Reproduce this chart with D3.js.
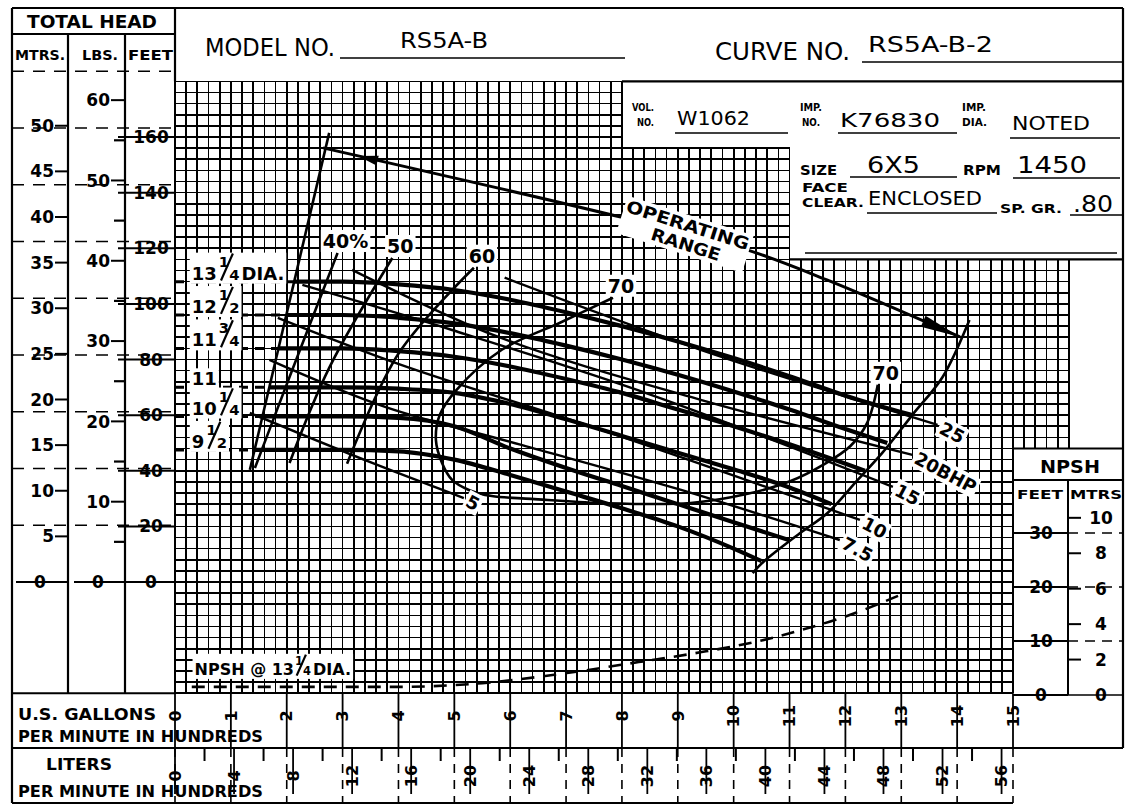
<!DOCTYPE html>
<html>
<head>
<meta charset="utf-8">
<title>RS5A-B pump curve</title>
<script src="https://cdn.jsdelivr.net/npm/d3@7/dist/d3.min.js"></script>
<style>
  html, body { margin: 0; padding: 0; background: #fff; }
  svg { display: block; }
  text { font-family: "DejaVu Sans", "Liberation Sans", sans-serif; fill: #000; }
</style>
</head>
<body>
<div id="chart"></div>
<script>
// Values.
// Flow is in hundreds of U.S. gallons per minute, head in feet.

// head / capacity curves, one pair of arrays per impeller diameter
const head1325Q = [0, 1.5, 2.1, 3, 4, 5, 6, 7, 8, 9, 10, 11, 12, 13.2];
const head1325H = [108, 108, 108, 108, 107, 105, 101.5, 97, 92, 86.5, 80.5, 74, 67, 60];
const head1250Q = [0, 1.4, 2, 3, 4, 5, 6, 7, 8, 9, 10, 11, 12, 12.75];
const head1250H = [96, 96, 96, 96, 95, 93, 89.5, 85, 80, 74.5, 68.5, 62, 55, 50];
const head1175Q = [0, 1.4, 2, 3, 4, 5, 6, 7, 8, 9, 10, 11, 12.35];
const head1175H = [84, 84, 84, 84, 83, 81, 77.5, 73, 68, 62, 56, 49.5, 40];
const head1100Q = [0, 1.5, 2, 3, 4, 5, 6, 7, 8, 9, 10, 11, 11.75];
const head1100H = [70, 70, 70, 70, 69.5, 68, 64, 58.5, 52.5, 46.5, 40.5, 34, 28];
const head1025Q = [0, 1.4, 2, 3, 4, 5, 6, 7, 8, 9, 10, 11];
const head1025H = [59.5, 59.5, 59.5, 59.5, 59, 56, 48, 41, 34.5, 28, 21.5, 15];
const head950Q = [0, 1.3, 2, 3, 4, 5, 6, 7, 8, 9, 10, 10.5];
const head950H = [47.5, 47.5, 47.5, 47.5, 47, 44, 38.5, 32.5, 26.5, 20, 12, 7.5];

const diaWhole = ["13", "12", "11", "11", "10", "9"];
const diaNum = ["1", "1", "3", "", "1", "1"];
const diaDen = ["4", "2", "4", "", "4", "2"];
const diaTail = ["DIA.", "", "", "", "", ""];

// efficiency lines
const eff40Q = [2.91, 2.1, 1.43];
const eff40H = [118.3, 76.3, 41];
const eff50Q = [3.89, 2.76, 2.05];
const eff50H = [116.5, 77, 42.8];
const eff60Q = [5.35, 4.01, 3.08];
const eff60H = [113, 82.4, 42.5];
const eff70Q = [7.84, 6.92, 5.85, 5.04, 4.74, 4.67, 4.78, 4.96, 5.26, 5.67, 6.38, 7.63, 9.23, 10.25, 11.02, 11.6, 12.09, 12.39, 12.58];
const eff70H = [102.2, 93.5, 83.5, 69.1, 60.1, 51.1, 42.8, 36.7, 33.1, 30.9, 29.9, 28.4, 28.4, 31.7, 36.3, 42.1, 48.9, 57.2, 70.9];
const effLabels = ["40%", "50", "60", "70"];

// brake horsepower lines
const bhp5Q = [1.34, 3.53, 5.17];
const bhp5H = [60.8, 42.8, 30.2];
const bhp75Q = [1.69, 3.76, 6.2, 9.06, 11.9];
const bhp75H = [79.9, 63, 49.3, 33.1, 15.1];
const bhp10Q = [1.84, 4.06, 7.63, 12.26];
const bhp10H = [95, 78, 54.7, 22.3];
const bhp15Q = [2.28, 4.96, 8.52, 12.85];
const bhp15H = [106.8, 90.6, 67.3, 34.2];
const bhp20Q = [3.17, 5.79, 9.41, 13.2];
const bhp20H = [112.2, 88.1, 65.5, 45.7];
const bhp25Q = [5.9, 9.41, 13.65];
const bhp25H = [109.4, 83.5, 56.5];
const bhpLabels = ["5", "7.5", "10", "15", "20BHP", "25"];

// operating range and curve limits
const opRangeQ = [2.65, 8.02, 10.24, 11.67, 14.05];
const opRangeH = [156.1, 131.0, 119.4, 108.6, 88.1];
const leftEdgeQs = [2.76, 1.34];
const leftEdgeHs = [161.5, 40.3];
const rightEdgeQ = [14.22, 13.74, 13.2, 12.66, 12.22, 11.68, 11.19, 10.53, 10.34];
const rightEdgeH = [94.2, 73.7, 60.1, 46.4, 36.7, 24.8, 17.6, 7.2, 3.2];

// NPSH required at 13 1/4 dia., feet
const npshQ = [0.3, 2, 4, 5.5, 6.9, 8.3, 9.4, 10.5, 11.2, 12.1, 13];
const npshFt = [1.5, 1.5, 1.5, 2.2, 3.9, 6.1, 7.9, 10.1, 12, 14.9, 18.6];

// scale ticks
const gpmTicks = [0, 1, 2, 3, 4, 5, 6, 7, 8, 9, 10, 11, 12, 13, 14, 15];
const literTicks = [0, 4, 8, 12, 16, 20, 24, 28, 32, 36, 40, 44, 48, 52, 56];
const literMinorTicks = [2, 6, 10, 14, 18, 22, 26, 30, 34, 38, 42, 46, 50, 54];
const feetTicks = [0, 20, 40, 60, 80, 100, 120, 140, 160];
const feetGuideLines = [20, 40, 60, 80, 100, 120, 140, 160, 180];
const lbsTicks = [0, 10, 20, 30, 40, 50, 60];
const lbsMinorTicks = [5, 15, 25, 35, 45, 55];
const mtrsTicks = [0, 5, 10, 15, 20, 25, 30, 35, 40, 45, 50];
const npshFeetTicks = [0, 10, 20, 30];
const npshMtrsTicks = [0, 2, 4, 6, 8, 10];

const FT_PER_PSI = 2.31 / 0.80; // sp. gr. .80
const FT_PER_M = 3.281;
const L_PER_GAL = 3.785;

const W = 1127, H = 809;
const x = d3.scaleLinear().domain([0, 15]).range([175, 1013]);
const yHead = d3.scaleLinear().domain([0, 160]).range([582, 137]);
const yNpsh = d3.scaleLinear().domain([0, 30]).range([695, 533]);

const svg = d3.select("#chart").append("svg").attr("width", W).attr("height", H);
svg.append("rect").attr("width", W).attr("height", H).attr("fill", "#fff");

const zip = (a, b) => a.map((v, i) => [v, b[i]]);
const px = d => [x(d[0]), yHead(d[1])];
const lineQH = d3.line().x(d => x(d[0])).y(d => yHead(d[1]));

function rule(g, x1, y1, x2, y2, width, dash) {
    const l = g.append("line")
        .attr("x1", x1).attr("y1", y1).attr("x2", x2).attr("y2", y2)
        .attr("stroke", "#000").attr("stroke-width", width || 2);
    if (dash) l.attr("stroke-dasharray", dash);
    return l;
}

function put(g, str, tx, ty, size, o = {}) {
    const t = g.append("text").attr("x", tx).attr("y", ty)
        .attr("font-size", size).text(str);
    if (o.anchor) t.attr("text-anchor", o.anchor);
    if (o.weight) t.attr("font-weight", o.weight);
    if (o.mid) t.attr("dy", "0.36em");
    if (o.len) t.attr("textLength", o.len).attr("lengthAdjust", "spacingAndGlyphs");
    return t;
}

// white box behind a label, like the knocked-out grid on the sheet
function knockOut(g, padX = 2, padY = 0) {
    const b = g.node().getBBox();
    g.insert("rect", ":first-child")
        .attr("x", b.x - padX).attr("y", b.y - padY)
        .attr("width", b.width + 2 * padX).attr("height", b.height + 2 * padY)
        .attr("fill", "#fff");
}

// stacked fraction: numerator up-left, drawn slash, denominator down-right
function fraction(g, fx, base, num, den, size) {
    const s = size * 0.82;
    put(g, num, fx, base - size * 0.72, s, { weight: "bold" });
    put(g, den, fx + size * 0.58, base, s, { weight: "bold" });
    rule(g, fx + size * 0.78, base - size * 1.45, fx + size * 0.12, base + size * 0.05, 2.2);
    return size * 1.15;
}

function arrowHead(g, tip, from, len, half) {
    const dx = tip[0] - from[0], dy = tip[1] - from[1], d = Math.hypot(dx, dy);
    const ux = dx / d, uy = dy / d;
    const bx = tip[0] - ux * len, by = tip[1] - uy * len;
    g.append("path")
        .attr("d", `M${tip[0]},${tip[1]}L${bx - uy * half},${by + ux * half}L${bx + uy * half},${by - ux * half}Z`)
        .attr("fill", "#000");
}

// flow at which the minimum-flow line crosses a given head
function leftEdgeAt(h) {
    const [q0, q1] = leftEdgeQs, [h0, h1] = leftEdgeHs;
    return q1 + (h - h1) * (q0 - q1) / (h0 - h1);
}

function drawGrid() {
    const g = svg.append("g").attr("stroke", "#000").attr("stroke-width", 1.7)
        .attr("shape-rendering", "crispEdges");
    for (let i = 0; i <= 80; i++) {
        const q = i / 5;
        const top = i <= 40 ? 180 : i <= 55 ? 156 : 116;
        const bottom = i <= 75 ? -40 : 48;
        g.append("line").attr("x1", x(q)).attr("x2", x(q))
            .attr("y1", yHead(top)).attr("y2", yHead(bottom));
    }
    for (let h = -40; h <= 180; h += 4) {
        const right = h > 156 ? 8 : h > 116 ? 11 : h >= 48 ? 16 : 15;
        g.append("line").attr("x1", x(0)).attr("x2", x(right))
            .attr("y1", yHead(h)).attr("y2", yHead(h));
    }
}

function drawCurves(layer) {
    const smooth = d3.line().x(d => x(d[0])).y(d => yHead(d[1])).curve(d3.curveCatmullRom.alpha(0.5));
    const mono = d3.line().x(d => x(d[0])).y(d => yHead(d[1])).curve(d3.curveMonotoneX);

    // limits
    layer.append("path").attr("d", lineQH(zip(leftEdgeQs, leftEdgeHs)))
        .attr("fill", "none").attr("stroke", "#000").attr("stroke-width", 2.6);
    layer.append("path").attr("d", smooth(zip(rightEdgeQ, rightEdgeH)))
        .attr("fill", "none").attr("stroke", "#000").attr("stroke-width", 2.6);

    // efficiency
    [zip(eff40Q, eff40H), zip(eff50Q, eff50H), zip(eff60Q, eff60H), zip(eff70Q, eff70H)].forEach(pts => {
        layer.append("path").attr("d", smooth(pts))
            .attr("fill", "none").attr("stroke", "#000").attr("stroke-width", 2.6);
    });

    // bhp
    [zip(bhp5Q, bhp5H), zip(bhp75Q, bhp75H), zip(bhp10Q, bhp10H), zip(bhp15Q, bhp15H),
     zip(bhp20Q, bhp20H), zip(bhp25Q, bhp25H)].forEach(pts => {
        layer.append("path").attr("d", smooth(pts))
            .attr("fill", "none").attr("stroke", "#000").attr("stroke-width", 2.4);
    });

    // head curves: dashed up to the minimum-flow line, heavy after it
    const heads = [zip(head1325Q, head1325H), zip(head1250Q, head1250H), zip(head1175Q, head1175H),
                   zip(head1100Q, head1100H), zip(head1025Q, head1025H), zip(head950Q, head950H)];
    heads.forEach(pts => {
        const h0 = pts[0][1];
        const qb = leftEdgeAt(h0);
        const dashed = pts.filter(p => p[0] < qb).concat([[qb, h0]]);
        const solid = [[qb, h0]].concat(pts.filter(p => p[0] > qb));
        layer.append("path").attr("d", lineQH(dashed))
            .attr("fill", "none").attr("stroke", "#000").attr("stroke-width", 3)
            .attr("stroke-dasharray", "9,7");
        layer.append("path").attr("d", mono(solid))
            .attr("fill", "none").attr("stroke", "#000").attr("stroke-width", 4.2);
    });

    // operating range with arrows
    const op = zip(opRangeQ, opRangeH);
    layer.append("path").attr("d", smooth(op))
        .attr("fill", "none").attr("stroke", "#000").attr("stroke-width", 3);
    const p0 = px(op[0]), p1 = px(op[1]);
    const d01 = Math.hypot(p1[0] - p0[0], p1[1] - p0[1]);
    const u = [(p1[0] - p0[0]) / d01, (p1[1] - p0[1]) / d01];
    arrowHead(layer, [p0[0] + u[0] * 36, p0[1] + u[1] * 36], [p0[0] + u[0] * 60, p0[1] + u[1] * 60], 20, 5);
    arrowHead(layer, px(op[op.length - 1]), px(op[op.length - 2]), 40, 6);

    // npsh
    layer.append("path").attr("d", d3.line().x(d => x(d[0])).y(d => yNpsh(d[1])).curve(d3.curveMonotoneX)(zip(npshQ, npshFt)))
        .attr("fill", "none").attr("stroke", "#000").attr("stroke-width", 2.6)
        .attr("stroke-dasharray", "13,9");
}

function drawLabels(layer) {
    const size = 18;
    // impeller diameters
    [head1325H, head1250H, head1175H, head1100H, head1025H, head950H].forEach((hs, i) => {
        const g = layer.append("g");
        const base = yHead(hs[0]) - 2;
        let cx = x(0.3);
        const t = put(g, diaWhole[i], cx, base, size, { weight: "bold" });
        cx += t.node().getComputedTextLength() + 2;
        if (diaNum[i]) cx += fraction(g, cx, base, diaNum[i], diaDen[i], size) + 2;
        if (diaTail[i]) put(g, diaTail[i], cx, base, size, { weight: "bold" });
        knockOut(g);
    });

    // efficiency
    const effStarts = [[eff40Q[0], eff40H[0]], [eff50Q[0], eff50H[0]], [eff60Q[0], eff60H[0]], [eff70Q[0], eff70H[0]],
                       [eff70Q[eff70Q.length - 1], eff70H[eff70H.length - 1]]];
    effStarts.forEach((s, i) => {
        const g = layer.append("g");
        const [sx, sy] = px(s);
        put(g, effLabels[Math.min(i, 3)], sx + 8, sy - 5, 19, { anchor: "middle", weight: "bold" });
        knockOut(g);
    });

    // bhp, at the lower end of each line
    const bhpEnds = [[bhp5Q, bhp5H], [bhp75Q, bhp75H], [bhp10Q, bhp10H], [bhp15Q, bhp15H], [bhp20Q, bhp20H], [bhp25Q, bhp25H]];
    bhpEnds.forEach(([qs, hs], i) => {
        const [ex, ey] = px([qs[qs.length - 1], hs[hs.length - 1]]);
        const outer = layer.append("g").attr("transform", `translate(${ex},${ey}) rotate(28)`);
        const g = outer.append("g");
        put(g, bhpLabels[i], 4, 0, 18, { weight: "bold", mid: true });
        knockOut(g);
    });

    // operating range
    const a = px([opRangeQ[1], opRangeH[1]]), b = px([opRangeQ[2], opRangeH[2]]);
    const ang = Math.atan2(b[1] - a[1], b[0] - a[0]) * 180 / Math.PI + 3;
    const outer = layer.append("g").attr("transform", `translate(${(a[0] + b[0]) / 2},${(a[1] + b[1]) / 2}) rotate(${ang})`);
    const og = outer.append("g");
    put(og, "OPERATING", 0, -3, 17, { anchor: "middle", weight: "bold", len: 128 });
    put(og, "RANGE", 4, 16, 17, { anchor: "middle", weight: "bold", len: 72 });
    knockOut(og);

    // npsh curve label
    const ng = layer.append("g");
    const nb = yNpsh(npshFt[0]) - 12;
    let nx = x(0.35);
    const nt = put(ng, "NPSH @ 13", nx, nb, 16, { weight: "bold" });
    nx += nt.node().getComputedTextLength() + 1;
    nx += fraction(ng, nx, nb, "1", "4", 14) + 2;
    put(ng, "DIA.", nx, nb, 16, { weight: "bold" });
    knockOut(ng);
}

function drawHeadScales(g) {
    const x0 = x(0);
    feetGuideLines.forEach(f => rule(g, 12, yHead(f * 1.02), x0, yHead(f * 1.02), 1.5, "12,9"));

    feetTicks.forEach(f => {
        const yy = yHead(f);
        rule(g, 118, yy, x0, yy, 2);
        put(g, f, 151, yy, 17, { anchor: "middle", weight: "bold", mid: true });
    });
    lbsTicks.forEach(p => {
        const yy = yHead(p * FT_PER_PSI);
        if (p === 0) {
            rule(g, 74, yy, 125, yy, 2);
            put(g, p, 98, yy, 17, { anchor: "middle", weight: "bold", mid: true });
        } else {
            rule(g, 111, yy, 125, yy, 2);
            put(g, p, 110, yy, 17, { anchor: "end", weight: "bold", mid: true });
        }
    });
    lbsMinorTicks.forEach(p => rule(g, 114, yHead(p * FT_PER_PSI), 125, yHead(p * FT_PER_PSI), 2.2));
    mtrsTicks.forEach(m => {
        const yy = yHead(m * FT_PER_M);
        if (m === 0) {
            rule(g, 16, yy, 68, yy, 2);
            put(g, m, 40, yy, 17, { anchor: "middle", weight: "bold", mid: true });
        } else {
            rule(g, 55, yy, 68, yy, 2);
            put(g, m, 54, yy, 17, { anchor: "end", weight: "bold", mid: true });
        }
    });
}

function drawFlowScales(g) {
    const yb = yHead(-40);
    gpmTicks.forEach(t => {
        rule(g, x(t), yb, x(t), 748, 1.8);
        rule(g, x(t), 748, x(t), 803, 1.6, "9,7");
        g.append("text").attr("transform", `translate(${x(t)},716) rotate(-90)`)
            .attr("text-anchor", "middle").attr("dy", "0.36em")
            .attr("font-size", 16).attr("font-weight", "bold").text(t);
    });
    literMinorTicks.forEach(t => rule(g, x(t / L_PER_GAL), 748, x(t / L_PER_GAL), 761, 2));
    literTicks.forEach(t => {
        const xx = x(t / L_PER_GAL);
        rule(g, xx, 748, xx, 794, 1.8);
        g.append("text").attr("transform", `translate(${xx},776) rotate(-90)`)
            .attr("text-anchor", "middle").attr("dy", "0.36em")
            .attr("font-size", 16).attr("font-weight", "bold").text(t);
    });
    put(g, "U.S. GALLONS", 18, 720, 15, { weight: "bold", len: 138 });
    put(g, "PER MINUTE IN HUNDREDS", 18, 742, 15, { weight: "bold", len: 245 });
    put(g, "LITERS", 46, 770, 15, { weight: "bold", len: 66 });
    put(g, "PER MINUTE IN HUNDREDS", 18, 797, 15, { weight: "bold", len: 245 });
}

function drawNpshScale(g) {
    const xl = x(15), xm = 1068, xr = 1123;
    put(g, "NPSH", 1070, 473, 18, { anchor: "middle", weight: "bold", len: 60 });
    put(g, "FEET", 1040, 499, 13, { anchor: "middle", weight: "bold", len: 46 });
    put(g, "MTRS", 1096, 499, 13, { anchor: "middle", weight: "bold", len: 52 });
    rule(g, xm, 480, xm, yNpsh(0), 2);
    npshFeetTicks.forEach(n => {
        const yy = yNpsh(n);
        rule(g, xl, yy, xm, yy, 1.8);
        rule(g, xm, yy, xr, yy, 1.6, n === 0 ? null : "10,7");
        put(g, n, 1041, yy, 17, { anchor: "middle", weight: "bold", mid: true });
    });
    npshMtrsTicks.forEach(m => {
        const yy = yNpsh(m * FT_PER_M);
        if (m > 0) rule(g, xm, yy, xm + 13, yy, 2);
        put(g, m, 1101, yy, 17, { anchor: "middle", weight: "bold", mid: true });
    });
}

function drawFrame(g) {
    const x0 = x(0);
    rule(g, 12, 8, 1123, 8, 2.2);
    rule(g, 12, 8, 12, 803, 2.2);
    rule(g, 1123, 8, 1123, 748, 2.2);
    rule(g, x0, 8, x0, yHead(180), 2.2);
    rule(g, 12, 34, x0, 34, 2.2);
    rule(g, 68, 34, 68, yHead(-40), 2.2);
    rule(g, 125, 34, 125, yHead(-40), 2.2);
    rule(g, 12, yHead(-40), x0, yHead(-40), 2.2);
    rule(g, x(8), yHead(180), 1123, yHead(180), 2.2);
    rule(g, x(11), yHead(116), 1123, yHead(116), 2.2);
    rule(g, x(15), yHead(48), 1123, yHead(48), 2.2);
    rule(g, x(15), 480, 1123, 480, 2.2);
    rule(g, 12, 748, 1123, 748, 2.2);
    rule(g, 12, 803, x(15), 803, 2.2);

    // header text
    put(g, "TOTAL HEAD", 27, 28, 17, { weight: "bold", len: 130 });
    put(g, "MTRS.", 15, 60, 14, { weight: "bold", len: 50 });
    put(g, "LBS.", 82, 60, 14, { weight: "bold", len: 36 });
    put(g, "FEET", 128, 60, 14, { weight: "bold", len: 45 });

    put(g, "MODEL NO.", 205, 56, 24, { len: 130 });
    put(g, "RS5A-B", 400, 48, 21, { len: 88 });
    rule(g, 340, 58, 625, 58, 1.6);
    put(g, "CURVE NO.", 715, 60, 24, { len: 135 });
    put(g, "RS5A-B-2", 868, 52, 21, { len: 125 });
    rule(g, 862, 62, 1123, 62, 1.6);

    // data block
    put(g, "VOL.", 632, 111, 11, { weight: "bold", len: 22 });
    put(g, "NO.", 637, 126, 11, { weight: "bold", len: 17 });
    put(g, "W1062", 677, 125, 19, { len: 73 });
    rule(g, 675, 133, 788, 133, 1.6);
    put(g, "IMP.", 800, 111, 11, { weight: "bold", len: 22 });
    put(g, "NO.", 802, 126, 11, { weight: "bold", len: 18 });
    put(g, "K76830", 840, 127, 19, { len: 100 });
    rule(g, 838, 133, 957, 133, 1.6);
    put(g, "IMP.", 962, 111, 11, { weight: "bold", len: 24 });
    put(g, "DIA.", 962, 126, 11, { weight: "bold", len: 25 });
    put(g, "NOTED", 1012, 130, 20, { len: 78 });
    rule(g, 1010, 138, 1120, 138, 1.6);

    put(g, "SIZE", 800, 175, 14, { weight: "bold", len: 37 });
    put(g, "6X5", 867, 173, 23, { len: 53 });
    rule(g, 850, 177, 957, 177, 1.6);
    put(g, "RPM", 963, 175, 14, { weight: "bold", len: 38 });
    put(g, "1450", 1017, 173, 23, { len: 70 });
    rule(g, 1013, 178, 1120, 178, 1.6);
    put(g, "FACE", 802, 192, 12, { weight: "bold", len: 46 });
    put(g, "CLEAR.", 802, 207, 12, { weight: "bold", len: 62 });
    put(g, "ENCLOSED", 868, 205, 20, { len: 114 });
    rule(g, 867, 213, 997, 213, 1.6);
    put(g, "SP. GR.", 1000, 213, 13, { weight: "bold", len: 62 });
    put(g, ".80", 1073, 212, 23, { len: 40 });
    rule(g, 1070, 215, 1122, 215, 1.6);
    rule(g, 805, 253, 1117, 253, 1.6);
}

drawGrid();
const curveLayer = svg.append("g");
drawCurves(curveLayer);
const labelLayer = svg.append("g");
drawLabels(labelLayer);
const scaleLayer = svg.append("g");
drawHeadScales(scaleLayer);
drawFlowScales(scaleLayer);
drawNpshScale(scaleLayer);
drawFrame(svg.append("g"));
</script>
</body>
</html>
